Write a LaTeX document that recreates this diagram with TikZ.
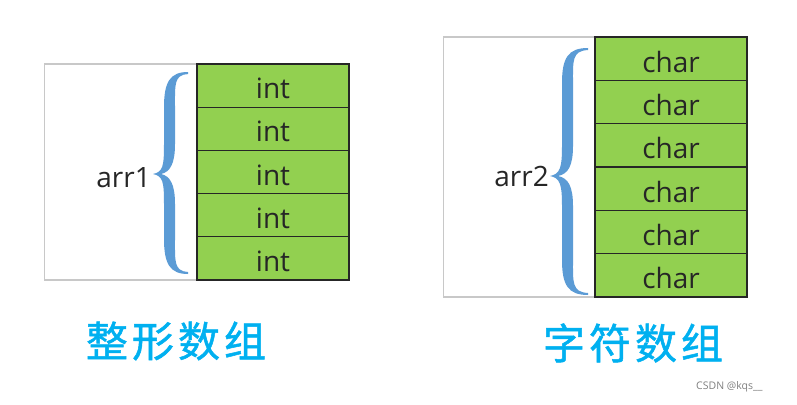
\documentclass[tikz,border=0pt]{standalone}
\usepackage{fontspec}
\setmainfont{Open Sans}
\newfontfamily\cjk[FakeBold=1.2]{Noto Sans CJK SC}
\definecolor{cellgreen}{HTML}{92D050}
\definecolor{bracecol}{HTML}{5B9BD5}
\definecolor{framegray}{HTML}{C8C8C8}
\definecolor{titleblue}{HTML}{00B0F0}
\definecolor{wmgray}{HTML}{7F7F7F}
\tikzset{
  frame/.style={draw=framegray, line width=1.3pt},
  cell/.style={draw=black!85, line width=1.2pt, fill=cellgreen, minimum width=152pt, inner sep=0pt},
  celltext/.style={inner sep=0pt, text=black!85, font=\fontsize{28}{28}\selectfont},
  lbl/.style={anchor=east, inner sep=0pt, text=black!85, font=\fontsize{28}{28}\selectfont},
  title/.style={inner sep=0pt, text=titleblue, font=\cjk\fontsize{42}{42}\selectfont},
  bracefill/.style={fill=bracecol, draw=none},
  wm/.style={inner sep=0pt, text=wmgray, font=\fontsize{10.5}{10.5}\selectfont}
}
% #1 tip x, #2 stem x, #3 end x, #4 top y, #5 mid y, #6 bottom y
\newcommand{\mybrace}[6]{%
  \path[bracefill]
    (#3,#4) .. controls (#2,#4) and (#2-6,#4+10) .. (#2-6,#4+35)
    -- (#2-6,#5-30) .. controls (#2-6,#5-8) and (#1+10,#5-2) .. (#1,#5)
    .. controls (#1+10,#5+2) and (#2-6,#5+8) .. (#2-6,#5+30)
    -- (#2-6,#6-35) .. controls (#2-6,#6-10) and (#2,#6) .. (#3,#6)
    -- (#3,#6-2) .. controls (#2+4,#6-3) and (#2+5,#6-12) .. (#2+5,#6-35)
    -- (#2+5,#5+30) .. controls (#2+5,#5+10) and (#2,#5+2) .. (#1+8,#5)
    .. controls (#2,#5-2) and (#2+5,#5-10) .. (#2+5,#5-30)
    -- (#2+5,#4+35) .. controls (#2+5,#4+12) and (#2+4,#4+3) .. (#3,#4+2)
    -- cycle;}
\begin{document}
\begin{tikzpicture}[x=1pt,y=-1pt]
\useasboundingbox (0,0) rectangle (797,404);
% left panel
\draw[frame] (44.5,64) rectangle (349,280);
\foreach \i in {0,...,4} {
  \node[cell, minimum height=43.2pt] (a\i) at (273,{64+43.2*\i+21.6}) {};
  \node[celltext] at ([yshift=-3pt]a\i.center) {int};
}
\mybrace{153}{170}{188}{72}{174}{274}
\node[lbl] (arr1) at (151,178) {arr1};
\node[title] (t1) at (176,341) {整\hspace{4pt}形\hspace{4pt}数\hspace{4pt}组};
% right panel
\draw[frame] (443.5,37) rectangle (747,297);
\foreach \i in {0,...,5} {
  \node[cell, minimum height=43.33pt] (b\i) at (671,{37+43.33*\i+21.67}) {};
  \node[celltext] at ([yshift=-3pt]b\i.center) {char};
}
\mybrace{550}{568}{588}{48}{176}{295}
\node[lbl] (arr2) at (549,176) {arr2};
\node[title] (t2) at (633,343) {字\hspace{4pt}符\hspace{4pt}数\hspace{4pt}组};
\node[wm, anchor=west] (wm) at (696,387) {CSDN @kqs\_\_};
\end{tikzpicture}
\end{document}
